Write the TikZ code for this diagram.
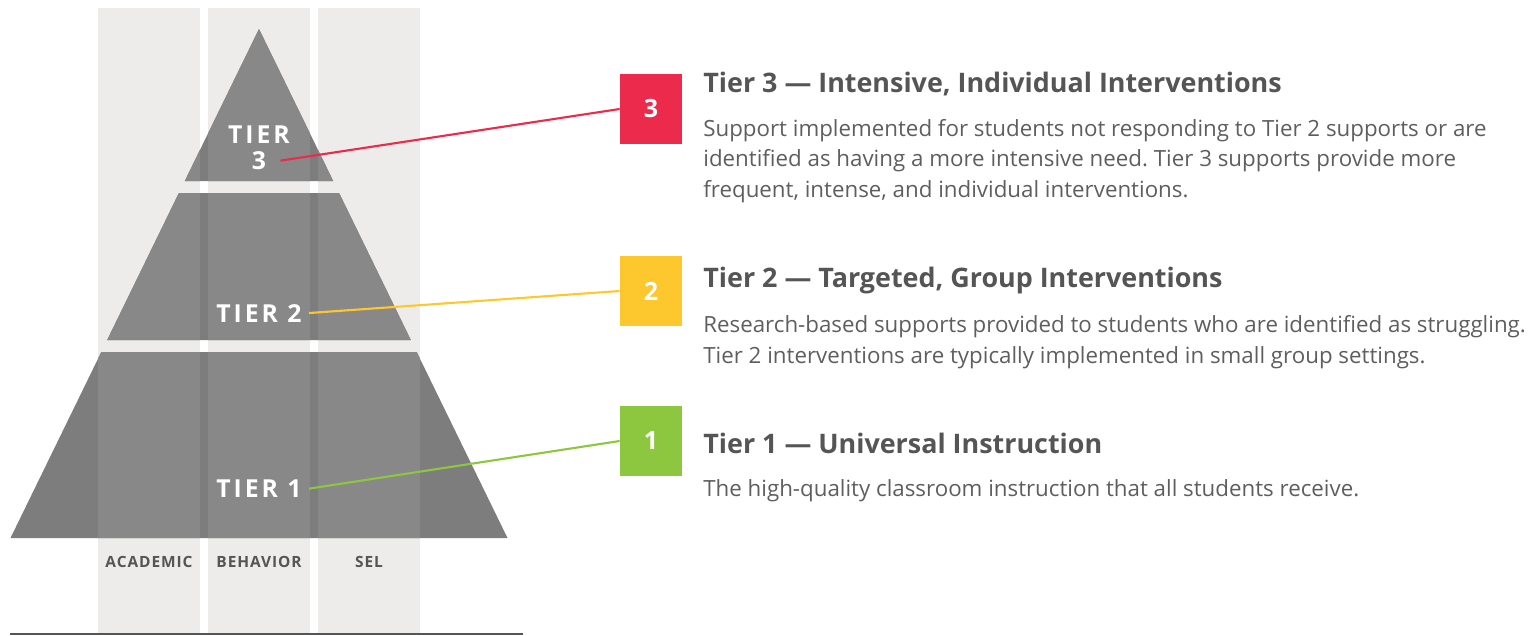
\documentclass[tikz,border=0pt]{standalone}
\usepackage{fontspec}
\setmainfont{Open Sans}
\usepackage{tikz}
\usepackage{xcolor}
\frenchspacing

\definecolor{colbg}{HTML}{EDECEA}
\definecolor{tierout}{HTML}{7D7D7D}
\definecolor{tierin}{HTML}{888888}
\definecolor{headgray}{HTML}{555555}
\definecolor{bodygray}{HTML}{5E5E5E}
\definecolor{tierred}{HTML}{EC2A4B}
\definecolor{tieryellow}{HTML}{FDC72E}
\definecolor{tiergreen}{HTML}{8DC63F}

\tikzset{
  tierlbl/.style={text=white, anchor=base, inner xsep=4pt, inner ysep=0pt,
    font=\fontsize{14.1}{16}\selectfont\bfseries\addfontfeatures{LetterSpace=12}},
  collbl/.style={text=headgray, anchor=base, inner sep=0pt,
    font=\fontsize{8.8}{10}\selectfont\bfseries\addfontfeatures{LetterSpace=6}},
  numbox/.style={fill=#1, text=white, minimum width=1.24cm, minimum height=1.4cm,
    inner sep=0pt, font=\fontsize{14.3}{16}\selectfont\bfseries},
  head/.style={text=headgray, anchor=base west, inner sep=0pt,
    font=\fontsize{15.3}{18}\selectfont\bfseries},
  body/.style={text=bodygray, anchor=base west, inner sep=0pt, align=left,
    font=\fontsize{12.7}{17.3}\selectfont},
  link/.style={draw=#1, line width=1.2pt}
}

\begin{document}
\begin{tikzpicture}[x=0.02cm, y=-0.02cm]
  \useasboundingbox (0,0) rectangle (1536,636);
  % columns behind the pyramid
  \fill[colbg] (98,8) rectangle (200,634);
  \fill[colbg] (208,8) rectangle (310,634);
  \fill[colbg] (318,8) rectangle (420,634);
  % the three tiers
  \def\tiers{(259,29) -- (333.2,181) -- (184.8,181) -- cycle
    (178.9,193) -- (339.1,193) -- (410.8,340) -- (107.2,340) -- cycle
    (101.3,352) -- (416.7,352) -- (507.5,538) -- (10.5,538) -- cycle}
  \fill[tierout] \tiers;
  \begin{scope}
    \clip \tiers;
    \fill[tierin] (98,0) rectangle (200,636);
    \fill[tierin] (208,0) rectangle (310,636);
    \fill[tierin] (318,0) rectangle (420,636);
  \end{scope}
  \draw[headgray, line width=0.8pt] (10,634) -- (523,634);

  % tier labels
  \node[tierlbl] (t3top) at (259,143) {TIER};
  \node[tierlbl, inner xsep=8pt] (t3) at (259,169.5) {3};
  \node[tierlbl] (t2) at (259,322) {TIER 2};
  \node[tierlbl] (t1) at (259,497.5) {TIER 1};

  % column labels
  \node[collbl] (acad) at (149,567) {ACADEMIC};
  \node[collbl] (behav) at (259,567) {BEHAVIOR};
  \node[collbl] (sel) at (369,567) {SEL};

  % numbered boxes
  \node[numbox=tierred] (n3) at (651,109) {3};
  \node[numbox=tieryellow] (n2) at (651,291) {2};
  \node[numbox=tiergreen] (n1) at (651,441) {1};

  % connectors
  \draw[link=tierred] (t3.east) -- (n3.west);
  \draw[link=tieryellow] (t2.east) -- (n2.west);
  \draw[link=tiergreen] (t1.east) -- (n1.west);

  % descriptions (body nodes sit on the baseline of their last line)
  \node[head] (h3) at (703,92.3) {Tier 3 — Intensive, Individual Interventions};
  \node[body] (b3) at (703,197) {Support implemented for students not responding to Tier 2 supports or are\\
    identified as having a more intensive need. Tier 3 supports provide more\\
    frequent, intense, and individual interventions.};
  \node[head] (h2) at (703,287.3) {Tier 2 — Targeted, Group Interventions};
  \node[body] (b2) at (703,363) {Research-based supports provided to students who are identified as struggling.\\
    Tier 2 interventions are typically implemented in small group settings.};
  \node[head] (h1) at (703,453.3) {Tier 1 — Universal Instruction};
  \node[body] (b1) at (703,496) {The high-quality classroom instruction that all students receive.};
\end{tikzpicture}
\end{document}
